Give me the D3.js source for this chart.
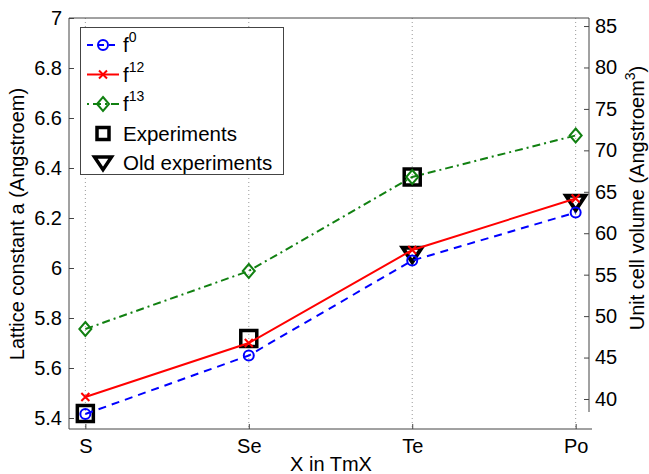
<!DOCTYPE html>
<html>
<head>
<meta charset="utf-8">
<script src="https://cdn.jsdelivr.net/npm/d3@7"></script>
<style>
  body { margin: 0; background: #fff; }
  svg text { font-family: "Liberation Sans", Arial, sans-serif; fill: #000; }
</style>
</head>
<body>
<div id="chart"></div>
<script>
(function() {
  var width = 649,
      height = 474;

  // data
  var categories = ["S", "Se", "Te", "Po"];
  var f0  = [5.416, 5.650, 6.030, 6.222];
  var f12 = [5.484, 5.700, 6.072, 6.278];
  var f13 = [5.756, 5.988, 6.364, 6.530];
  var expX = ["S", "Se", "Te"];
  var expVals = [5.418, 5.718, 6.364];
  var oldX = ["Te", "Po"];
  var oldVals = [6.058, 6.266];
  var leftTicks = [5.4, 5.6, 5.8, 6, 6.2, 6.4, 6.6, 6.8, 7];
  var rightTicks = [40, 45, 50, 55, 60, 65, 70, 75, 80, 85];

  var left = 69, right = 589, top = 18, bottom = 429;

  var svg = d3.select("#chart")
        .append("svg")
        .attr("width", width)
        .attr("height", height);

  var x = d3.scaleLinear()
    .domain([0.9, 4.1])
    .range([left, right + 3]);
  var xi = function(c) { return x(categories.indexOf(c) + 1); };

  var y = d3.scaleLinear()
    .domain([5.356, 7])
    .range([bottom, top]);

  var yR = d3.scaleLinear()
    .domain([38.43, 85.97])
    .range([412, top]);

  // dotted grid at each category
  svg.selectAll(".grid")
    .data(categories)
    .enter().append("line")
    .attr("x1", xi).attr("x2", xi)
    .attr("y1", top).attr("y2", bottom)
    .attr("stroke", "#999")
    .attr("stroke-width", 1)
    .attr("stroke-dasharray", "1,3");

  // frame: top line
  svg.append("line")
    .attr("x1", left).attr("x2", right)
    .attr("y1", top).attr("y2", top)
    .attr("stroke", "#444").attr("stroke-width", 1);

  // left axis
  var yAxis = d3.axisLeft(y)
    .tickValues(leftTicks)
    .tickSize(-5)
    .tickPadding(7)
    .tickFormat(function(d) { return d3.format("")(d); });
  var gy = svg.append("g")
    .attr("transform", "translate(" + left + ",0)")
    .call(yAxis);
  gy.select(".domain").attr("d", "M0," + top + "V" + bottom).attr("stroke", "#444");

  // bottom axis
  var xAxis = d3.axisBottom(x)
    .tickValues([1, 2, 3, 4])
    .tickSize(-5)
    .tickPadding(10)
    .tickFormat(function(d) { return categories[d - 1]; });
  var gx = svg.append("g")
    .attr("transform", "translate(0," + bottom + ")")
    .call(xAxis);
  gx.select(".domain").attr("d", "M" + left + ",0H" + (right + 3)).attr("stroke", "#444");

  // right axis
  var yAxisR = d3.axisRight(yR)
    .tickValues(rightTicks)
    .tickSize(-5)
    .tickPadding(6);
  var gr = svg.append("g")
    .attr("transform", "translate(" + right + ",0)")
    .call(yAxisR);
  gr.select(".domain").attr("d", "M0," + top + "V412").attr("stroke", "#444");

  svg.selectAll(".tick text").style("font-size", "20px");
  svg.selectAll(".tick line").attr("stroke", "#444");

  // axis labels
  svg.append("text")
    .attr("transform", "translate(24,224) rotate(-90)")
    .attr("text-anchor", "middle")
    .style("font-size", "20px")
    .text("Lattice constant a (Angstroem)");

  var rl = svg.append("text")
    .attr("transform", "translate(644,198) rotate(-90)")
    .attr("text-anchor", "middle")
    .style("font-size", "20px");
  rl.append("tspan").text("Unit cell volume (Angstroem");
  rl.append("tspan").attr("dy", -9).style("font-size", "14px").text("3");
  rl.append("tspan").attr("dy", 9).text(")");

  svg.append("text")
    .attr("x", 331).attr("y", 471)
    .attr("text-anchor", "middle")
    .style("font-size", "20px")
    .text("X in TmX");

  // experiments squares (under the lines)
  svg.selectAll(".exp")
    .data(expVals)
    .enter().append("rect")
    .attr("x", function(d, i) { return xi(expX[i]) - 8; })
    .attr("y", function(d) { return y(d) - 8; })
    .attr("width", 16).attr("height", 16)
    .attr("fill", "none")
    .attr("stroke", "#000")
    .attr("stroke-width", 3.5);

  var tri = function(cx, cy, s) {
    return "M" + (cx - s) + "," + (cy - s * 0.6) + "L" + (cx + s) + "," + (cy - s * 0.6) + "L" + cx + "," + (cy + s * 0.9) + "Z";
  };
  svg.selectAll(".old")
    .data(oldVals)
    .enter().append("path")
    .attr("d", function(d, i) { return tri(xi(oldX[i]), y(d), 9.5); })
    .attr("fill", "none")
    .attr("stroke", "#000")
    .attr("stroke-width", 4)
    .attr("stroke-linejoin", "miter");

  var line = d3.line()
    .x(function(d, i) { return x(i + 1); })
    .y(function(d) { return y(d); });

  var series = [
    { vals: f13, color: "#118011", dash: "8,4,2,4", marker: "diamond" },
    { vals: f12, color: "#ff0000", dash: null, marker: "x" },
    { vals: f0, color: "#0000ff", dash: "8,6", marker: "circle" }
  ];

  function drawMarker(g, type, cx, cy, color) {
    if (type === "circle") {
      g.append("circle").attr("cx", cx).attr("cy", cy).attr("r", 5)
        .attr("fill", "none").attr("stroke", color).attr("stroke-width", 2);
    } else if (type === "x") {
      g.append("path")
        .attr("d", "M" + (cx - 4) + "," + (cy - 4) + "L" + (cx + 4) + "," + (cy + 4) +
                   "M" + (cx - 4) + "," + (cy + 4) + "L" + (cx + 4) + "," + (cy - 4))
        .attr("stroke", color).attr("stroke-width", 2);
    } else {
      g.append("path")
        .attr("d", "M" + cx + "," + (cy - 7) + "L" + (cx + 6) + "," + cy + "L" + cx + "," + (cy + 7) + "L" + (cx - 6) + "," + cy + "Z")
        .attr("fill", "none").attr("stroke", color).attr("stroke-width", 2);
    }
  }

  series.forEach(function(s) {
    svg.append("path")
      .datum(s.vals)
      .attr("d", line)
      .attr("fill", "none")
      .attr("stroke", s.color)
      .attr("stroke-width", 2)
      .attr("stroke-dasharray", s.dash);
    var g = svg.append("g");
    s.vals.forEach(function(v, i) {
      drawMarker(g, s.marker, x(i + 1), y(v), s.color);
    });
  });

  // legend
  var lg = svg.append("g");
  lg.append("rect")
    .attr("x", 80.5).attr("y", 27.5)
    .attr("width", 203).attr("height", 147)
    .attr("fill", "#fff")
    .attr("stroke", "#444");

  var legendRows = [
    { label: "f", sup: "0", s: series[2] },
    { label: "f", sup: "12", s: series[1] },
    { label: "f", sup: "13", s: series[0] },
    { label: "Experiments", type: "square" },
    { label: "Old experiments", type: "tri" }
  ];
  legendRows.forEach(function(r, i) {
    var cy = 45 + i * 29.5;
    if (r.s) {
      lg.append("line")
        .attr("x1", 87).attr("x2", 119)
        .attr("y1", cy).attr("y2", cy)
        .attr("stroke", r.s.color).attr("stroke-width", 2)
        .attr("stroke-dasharray", r.s.dash ? (r.s.marker === "circle" ? "6,5" : "2,4,8,4") : null);
      drawMarker(lg, r.s.marker, 103, cy, r.s.color);
    } else if (r.type === "square") {
      lg.append("rect").attr("x", 97).attr("y", cy - 6).attr("width", 12).attr("height", 12)
        .attr("fill", "none").attr("stroke", "#000").attr("stroke-width", 3.5);
    } else {
      lg.append("path").attr("d", tri(103, cy - 1, 8.5))
        .attr("fill", "none").attr("stroke", "#000").attr("stroke-width", 3.5);
    }
    var t = lg.append("text")
      .attr("x", 123).attr("y", cy + 7)
      .style("font-size", "20.5px");
    t.append("tspan").text(r.label);
    if (r.sup) {
      t.append("tspan").attr("dy", -10).style("font-size", "14px").text(r.sup);
    }
  });
})();
</script>
</body>
</html>
